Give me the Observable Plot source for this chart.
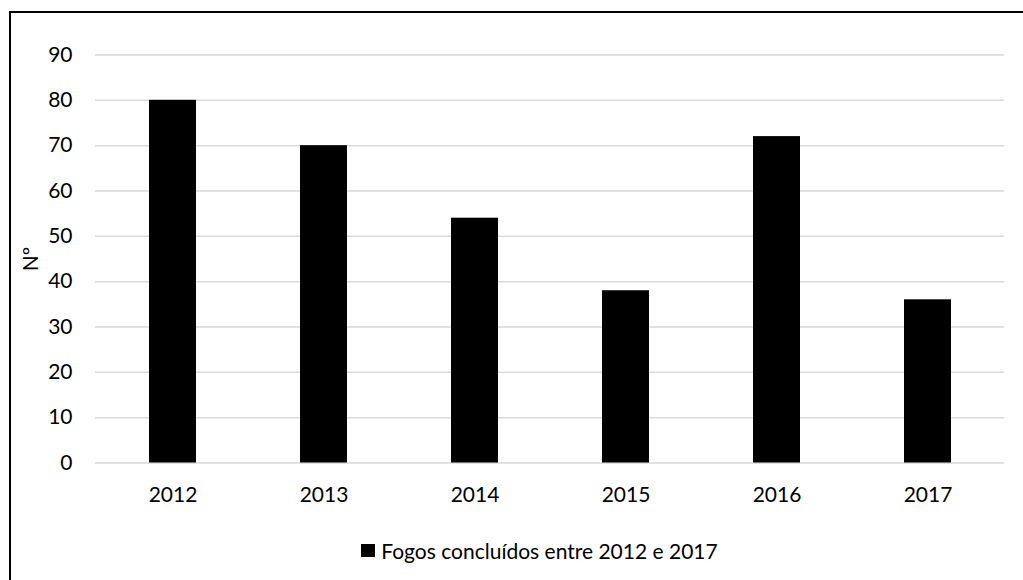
<!DOCTYPE html>
<html>
<head>
<meta charset="utf-8">
<script src="https://cdn.jsdelivr.net/npm/d3@7"></script>
<script src="https://cdn.jsdelivr.net/npm/@observablehq/plot@0.6"></script>
<style>
  html, body { margin: 0; padding: 0; background: #fff; overflow: hidden; }
  #page { position: relative; width: 1023px; height: 580px; overflow: hidden; font-family: Lato, "Open Sans", sans-serif; }
  #frame { position: absolute; left: 9px; top: 11px; width: 1070px; height: 640px; border: 2.5px solid #000; box-sizing: border-box; pointer-events: none; }
  #chart { position: absolute; left: 0; top: 0; }
  #legend { position: absolute; left: 0; width: 1079px; top: 538px; display: flex; justify-content: center; align-items: center; font-size: 21px; color: #000; }
  #legend .swatch { width: 14px; height: 13px; background: #000; margin-right: 6px; }
</style>
</head>
<body>
<div id="page">
  <div id="chart"></div>
  <div id="legend"><span class="swatch"></span><span id="legend-text"></span></div>
  <div id="frame"></div>
</div>
<script>
// Fires concluded per year
const years = ["2012", "2013", "2014", "2015", "2016", "2017"];
const fires = [80, 70, 54, 38, 72, 36];
const yTicks = [0, 10, 20, 30, 40, 50, 60, 70, 80, 90];
const seriesName = "Fogos concluídos entre 2012 e 2017";
const yLabel = "Nº";

const data = years.map((year, i) => ({year, value: fires[i]}));

const chart = Plot.plot({
  width: 1023,
  height: 530,
  marginLeft: 95,
  marginRight: 19,
  marginTop: 54.5,
  marginBottom: 67.5,
  style: {fontFamily: "Lato, 'Open Sans', sans-serif", fontSize: "21px", color: "#000", background: "transparent"},
  x: {domain: years, paddingInner: 0.69, paddingOuter: 0.345},
  y: {domain: [0, 90]},
  marks: [
    Plot.gridY(yTicks, {stroke: "#d9d9d9", strokeOpacity: 1, strokeWidth: 1.5}),
    Plot.barY(data, {x: "year", y: "value", fill: "#000"}),
    Plot.axisX({tickSize: 0, tickPadding: 24, label: null}),
    Plot.axisY(yTicks, {tickSize: 0, tickPadding: 23, label: yLabel, labelAnchor: "center", labelArrow: "none", labelOffset: 72})
  ]
});

document.getElementById("chart").appendChild(chart);
document.getElementById("legend-text").textContent = seriesName;
</script>
</body>
</html>
